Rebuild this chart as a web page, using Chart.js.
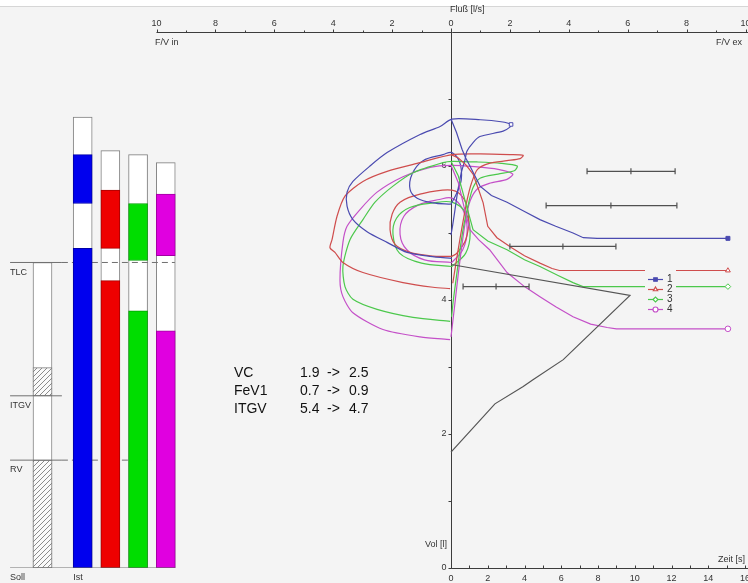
<!DOCTYPE html>
<html>
<head>
<meta charset="utf-8">
<title>Bodyplethysmographie</title>
<script src="https://cdn.jsdelivr.net/npm/chart.js@4.4.1/dist/chart.umd.min.js"></script>
<style>
  html, body { margin: 0; padding: 0; background: #f4f4f4; }
  #wrap { position: relative; width: 748px; height: 583px; }
</style>
</head>
<body>
<div id="wrap"><canvas id="c" width="748" height="583" style="width:748px;height:583px"></canvas></div>
<script>
const FONT = '"Liberation Sans", Arial, sans-serif'

// axis ticks
const flowTicks = [-10, -8, -6, -4, -2, 0, 2, 4, 6, 8, 10]
const timeTicks = [0, 2, 4, 6, 8, 10, 12, 14, 16]
const volTicks = [0, 2, 4, 6]

// measurements 1..4
const seriesNames = ['1', '2', '3', '4']
const lineColors = ['#4a4ab0', '#cf4d4d', '#4cc84c', '#c450c8']
const barColors = ['#0000ee', '#ee0000', '#00dd00', '#e000e0']
const barEdges = ['#0000a8', '#a80000', '#00a000', '#a000a0']
const markerStyles = ['rect', 'triangle', 'rectRot', 'circle']

// Soll / Ist volume columns [l]
const sollCol = 0
const istCols = [1.45, 2.45, 3.45, 4.45]
const sollTLC = 4.56
const sollITGV = 2.57
const sollITGVHi = 2.99
const sollRV = 1.61
const istTop = [6.73, 6.23, 6.17, 6.05]
const istLower = [4.77, 4.29, 3.84, 3.54]
const istUpper = [[5.44, 6.17], [4.77, 5.64], [4.59, 5.44], [4.66, 5.58]]

// text block
const summary = [
  ['VC', '1.9', '2.5'],
  ['FeV1', '0.7', '0.9'],
  ['ITGV', '5.4', '4.7']
]

// forced flow-volume loops [flow l/s, vol l]: inspiration bottom -> top, then expiration
const fvBlue = [
  [0.03, 4.62], [-0.71, 4.65], [-1.49, 4.71], [-2.17, 4.86], [-2.85, 5.02], [-3.33, 5.20], [-3.53, 5.40],
  [-3.53, 5.61], [-3.33, 5.77], [-2.75, 6.00], [-2.17, 6.20], [-1.05, 6.47], [-0.37, 6.59], [0.03, 6.70],
  [1.0, 6.69], [1.7, 6.66], [2.04, 6.62], [2.0, 6.58], [1.77, 6.52], [0.98, 6.44], [0.75, 6.35],
  [0.54, 6.22], [0.48, 6.1], [0.35, 5.9], [0.22, 5.6], [0.12, 5.3], [0.05, 5.1], [0.0, 4.97]
]
const fvRed = [
  [-0.03, 4.17], [-0.61, 4.19], [-1.63, 4.26], [-2.99, 4.41], [-3.67, 4.56], [-3.94, 4.71], [-4.11, 4.78],
  [-4.04, 4.90], [-3.87, 5.25], [-3.60, 5.55], [-2.99, 5.77], [-2.17, 5.92], [-1.05, 6.05], [0.03, 6.17],
  [1.0, 6.18], [2.0, 6.17], [2.45, 6.16], [2.35, 6.11], [1.9, 6.08], [1.3, 6.04], [0.9, 5.95],
  [0.7, 5.75], [0.55, 5.5], [0.42, 5.2], [0.3, 4.9], [0.17, 4.55], [0.06, 4.25]
]
const fvGreen = [
  [-0.03, 3.68], [-1.29, 3.74], [-2.51, 3.86], [-3.33, 4.01], [-3.60, 4.20], [-3.67, 4.50], [-3.43, 4.90],
  [-2.99, 5.20], [-2.58, 5.46], [-1.97, 5.70], [-1.29, 5.90], [-0.27, 6.05], [0.03, 6.07],
  [0.9, 6.06], [1.7, 6.04], [2.25, 6.0], [2.15, 5.93], [1.6, 5.88], [1.0, 5.82], [0.75, 5.68],
  [0.6, 5.45], [0.45, 5.15], [0.32, 4.8], [0.2, 4.4], [0.08, 4.0], [0.02, 3.75]
]
const fvMagenta = [
  [-0.03, 3.41], [-1.05, 3.45], [-2.31, 3.56], [-3.33, 3.81], [-3.67, 4.05], [-3.77, 4.30], [-3.67, 4.86],
  [-3.53, 5.10], [-3.09, 5.35], [-2.51, 5.61], [-1.63, 5.84], [-0.71, 5.98], [0.03, 6.01],
  [0.8, 5.99], [1.6, 5.95], [2.1, 5.88], [1.9, 5.8], [1.3, 5.74], [0.9, 5.66], [0.65, 5.48],
  [0.5, 5.2], [0.38, 4.85], [0.25, 4.4], [0.12, 3.9], [0.0, 3.45]
]

// tidal loops [flow l/s, vol l]
const tlBlue = [
  [0.0, 5.43], [-0.61, 5.45], [-1.15, 5.52], [-1.39, 5.65], [-1.32, 5.88], [-0.95, 6.08], [-0.27, 6.17],
  [0.03, 6.2], [0.3, 6.05], [0.35, 5.8], [0.2, 5.6], [0.0, 5.43]
]
const tlRed = [
  [0.03, 4.65], [-0.71, 4.66], [-1.39, 4.71], [-1.9, 4.83], [-2.07, 5.05], [-2.0, 5.28], [-1.73, 5.46],
  [-1.05, 5.58], [0.03, 5.64], [0.45, 5.5], [0.6, 5.2], [0.5, 4.9], [0.2, 4.7], [0.03, 4.65]
]
const tlGreen = [
  [0.03, 4.5], [-1.0, 4.55], [-1.75, 4.7], [-1.97, 4.98], [-1.85, 5.22], [-1.4, 5.38], [-0.6, 5.45],
  [0.03, 5.46], [0.5, 5.3], [0.65, 5.0], [0.5, 4.7], [0.03, 4.5]
]
const tlMagenta = [
  [0.03, 4.56], [-0.9, 4.6], [-1.5, 4.75], [-1.73, 4.98], [-1.6, 5.25], [-1.1, 5.42], [-0.4, 5.5],
  [0.03, 5.52], [0.4, 5.35], [0.55, 5.05], [0.4, 4.75], [0.03, 4.56]
]

// volume-time curves [time s, vol l]
const spBlue = [
  [0, 6.7], [0.3, 6.5], [0.6, 6.25], [0.8, 6.12], [1.03, 6.0], [1.58, 5.7], [2.2, 5.56], [3.05, 5.46],
  [4.0, 5.32], [4.84, 5.2], [5.7, 5.1], [6.64, 5.0], [7.2, 4.93], [7.95, 4.92], [15.07, 4.92]
]
const spRed = [
  [0, 6.17], [0.4, 6.12], [0.8, 6.02], [1.2, 5.88], [1.5, 5.65], [1.75, 5.45], [2.0, 5.1], [2.5, 4.93],
  [3.3, 4.78], [4.0, 4.66], [4.84, 4.55], [5.5, 4.47], [5.9, 4.44], [15.07, 4.44]
]
const spGreen = [
  [0, 6.07], [0.4, 5.85], [0.8, 5.45], [1.2, 5.05], [2.0, 4.88], [3.05, 4.75], [4.0, 4.6], [4.84, 4.5],
  [5.8, 4.37], [6.64, 4.26], [7.18, 4.2], [15.07, 4.2]
]
const spMagenta = [
  [0, 6.01], [0.4, 5.75], [0.7, 5.4], [1.03, 5.05], [1.5, 4.9], [2.1, 4.75], [3.05, 4.41], [4.0, 4.2],
  [4.84, 4.05], [5.7, 3.9], [6.64, 3.75], [7.6, 3.64], [8.5, 3.59], [9.0, 3.57], [15.07, 3.57]
]
const spReference = [[0, 1.73], [2.39, 2.45], [3.93, 2.71], [4.46, 2.81], [6.11, 3.11], [9.74, 4.07], [0, 4.53]]

// predicted flow ranges [l/s] at volume [l]
const predVol = [5.92, 5.41, 4.80, 4.20]
const predLo = [4.62, 3.23, 2.0, 0.41]
const predMid = [6.11, 5.43, 3.8, 1.53]
const predHi = [7.61, 7.67, 5.6, 2.65]

// ---- layout: pixel anchors of the scales ----
const FLOW_ZERO = 451, FLOW_PX = 29.45
const TIME_PX = 18.375
const COL_ZERO = 42.5, COL_PX = 27.7
const W = 748

const pts = arr => arr.map(([x, y]) => ({ x, y }))

function hatchPattern() {
  const p = document.createElement('canvas')
  p.width = 5
  p.height = 5
  const g = p.getContext('2d')
  g.fillStyle = '#fafafa'
  g.fillRect(0, 0, 5, 5)
  g.strokeStyle = '#6e6e6e'
  g.lineWidth = 0.8
  g.beginPath()
  g.moveTo(0, 5); g.lineTo(5, 0)
  g.moveTo(-1, 1); g.lineTo(1, -1)
  g.moveTo(4, 6); g.lineTo(6, 4)
  g.stroke()
  return document.getElementById('c').getContext('2d').createPattern(p, 'repeat')
}

// ungrouped so each bar sits centred on its own x value
const barBase = {
  type: 'bar', xAxisID: 'col', yAxisID: 'vol', grouped: false,
  barThickness: 19, maxBarThickness: 19, borderSkipped: false
}
const lineBase = {
  type: 'line', pointRadius: 0, borderWidth: 1.2, fill: false, yAxisID: 'vol'
}

function buildDatasets() {
  const hatch = hatchPattern()
  const list = []

  // outline boxes
  list.push({
    ...barBase, order: 30,
    data: [{ x: sollCol, y: [0, sollTLC] }, ...istCols.map((x, i) => ({ x, y: [0, istTop[i]] }))],
    backgroundColor: '#ffffff', borderColor: '#808080', borderWidth: 1
  })

  // dashed TLC / RV lines across the columns
  list.push({ ...lineBase, xAxisID: 'col', order: 25, borderColor: '#707070', borderWidth: 1, borderDash: [6, 4],
    data: pts([[0.7, sollTLC], [4.78, sollTLC]]) })
  list.push({ ...lineBase, xAxisID: 'col', order: 25, borderColor: '#707070', borderWidth: 1, borderDash: [6, 4],
    data: pts([[0.7, sollRV], [3.95, sollRV]]) })

  // coloured Ist segments
  list.push({
    ...barBase, order: 20,
    data: istCols.map((x, i) => ({ x, y: [0, istLower[i]] })),
    backgroundColor: barColors, borderColor: barEdges, borderWidth: 1
  })
  list.push({
    ...barBase, order: 20,
    data: istCols.map((x, i) => ({ x, y: istUpper[i] })),
    backgroundColor: barColors, borderColor: barEdges, borderWidth: 1
  })

  // hatched Soll parts
  list.push({
    ...barBase, order: 20,
    data: [{ x: sollCol, y: [0, sollRV] }, { x: sollCol, y: [sollITGV, sollITGVHi] }],
    backgroundColor: hatch, borderColor: '#808080', borderWidth: 1
  })

  // solid reference lines left of the columns
  ;[sollTLC, sollITGV, sollRV].forEach(v => {
    list.push({ ...lineBase, xAxisID: 'col', order: 15, borderColor: '#707070', borderWidth: 1,
      data: pts([[-1.17, v], [0.7, v]]) })
  })
  list.push({ ...lineBase, xAxisID: 'col', order: 15, borderColor: '#707070', borderWidth: 1,
    data: pts([[-1.17, 0], [4.78, 0]]) })

  // tidal loops
  ;[tlBlue, tlRed, tlGreen, tlMagenta].forEach((arr, i) => {
    list.push({ ...lineBase, xAxisID: 'flow', order: 10, borderColor: lineColors[i], tension: 0.35, data: pts(arr) })
  })

  // forced loops
  ;[fvBlue, fvRed, fvGreen, fvMagenta].forEach((arr, i) => {
    list.push({ ...lineBase, xAxisID: 'flow', order: 9, borderColor: lineColors[i], tension: 0.25, data: pts(arr),
      pointRadius: c => (i === 0 && c.dataIndex === 16 ? 2.5 : 0),
      pointStyle: markerStyles[i], pointBorderColor: lineColors[i], pointBackgroundColor: '#ffffff', pointBorderWidth: 1 })
  })

  // volume-time curves with end markers
  ;[spBlue, spRed, spGreen, spMagenta].forEach((arr, i) => {
    list.push({ ...lineBase, xAxisID: 'time', order: 8, borderColor: lineColors[i], data: pts(arr),
      pointRadius: c => (c.dataIndex === arr.length - 1 ? 2.8 : 0),
      pointStyle: markerStyles[i], pointBorderColor: lineColors[i],
      pointBackgroundColor: i === 0 ? lineColors[i] : '#ffffff', pointBorderWidth: 1 })
  })
  list.push({ ...lineBase, xAxisID: 'time', order: 7, borderColor: '#555555', data: pts(spReference) })

  // predicted ranges
  predVol.forEach((v, i) => {
    list.push({ ...lineBase, xAxisID: 'flow', order: 6, borderColor: '#505050', borderWidth: 1.2,
      data: pts([[predLo[i], v], [predMid[i], v], [predHi[i], v]]),
      pointRadius: 3, pointStyle: 'line', rotation: 90, pointBorderColor: '#505050', pointBorderWidth: 1.2 })
  })
  return list
}

const frame = {
  id: 'frame',
  beforeDraw(chart) {
    const { ctx, width, height } = chart
    ctx.save()
    ctx.fillStyle = '#f4f4f4'
    ctx.fillRect(0, 0, width, height)
    ctx.fillStyle = '#ffffff'
    ctx.fillRect(0, 0, width, 6)
    ctx.strokeStyle = '#d6d6d6'
    ctx.beginPath(); ctx.moveTo(0, 6.5); ctx.lineTo(width, 6.5); ctx.stroke()
    ctx.restore()
  },
  beforeDatasetsDraw(chart) {
    const { ctx } = chart
    const { flow, time, vol } = chart.scales
    const x0 = Math.round(flow.getPixelForValue(0)) + 0.5
    const yTop = Math.round(chart.chartArea.top) + 0.5
    const yBot = Math.round(vol.getPixelForValue(0)) + 0.5
    ctx.save()
    ctx.strokeStyle = '#3c3c3c'
    ctx.lineWidth = 1
    ctx.fillStyle = '#333333'
    ctx.font = '9px ' + FONT

    // flow axis on top
    ctx.beginPath()
    ctx.moveTo(flow.getPixelForValue(flowTicks[0]), yTop)
    ctx.lineTo(chart.width, yTop)
    for (let v = flowTicks[0]; v <= flowTicks[flowTicks.length - 1]; v++) {
      const px = Math.round(flow.getPixelForValue(v)) + 0.5
      ctx.moveTo(px, yTop)
      ctx.lineTo(px, yTop - (v % 2 === 0 ? 3 : 2))
    }
    ctx.stroke()
    ctx.textAlign = 'center'
    ctx.textBaseline = 'middle'
    flowTicks.forEach(v => ctx.fillText(String(Math.abs(v)), flow.getPixelForValue(v), yTop - 9))

    // volume axis at zero flow
    ctx.beginPath()
    ctx.moveTo(x0, yTop - 4)
    ctx.lineTo(x0, yBot)
    for (let v = 0; v <= 7; v++) {
      const py = Math.round(vol.getPixelForValue(v)) + 0.5
      ctx.moveTo(x0, py)
      ctx.lineTo(x0 - 3, py)
    }
    ctx.stroke()
    ctx.textAlign = 'right'
    volTicks.forEach(v => ctx.fillText(String(v), x0 - 5, vol.getPixelForValue(v)))

    // time axis along the bottom
    ctx.beginPath()
    ctx.moveTo(x0, yBot)
    ctx.lineTo(chart.width, yBot)
    for (let v = 0; v <= timeTicks[timeTicks.length - 1]; v++) {
      const px = Math.round(time.getPixelForValue(v)) + 0.5
      ctx.moveTo(px, yBot)
      ctx.lineTo(px, yBot - 3)
    }
    ctx.stroke()
    ctx.textAlign = 'center'
    timeTicks.forEach(v => ctx.fillText(String(v), time.getPixelForValue(v), yBot + 10))
    ctx.restore()
  },
  afterDatasetsDraw(chart) {
    const { ctx } = chart
    const { vol, col } = chart.scales
    ctx.save()

    // legend
    ctx.fillStyle = '#f4f4f4'
    ctx.fillRect(645, 266, 31, 50)
    seriesNames.forEach((name, i) => {
      const y = 279.5 + i * 10
      ctx.strokeStyle = lineColors[i]
      ctx.lineWidth = 1.2
      ctx.beginPath(); ctx.moveTo(648, y); ctx.lineTo(663, y); ctx.stroke()
      ctx.fillStyle = i === 0 ? lineColors[i] : '#ffffff'
      Chart.helpers.drawPoint(ctx, { pointStyle: markerStyles[i], radius: 2.5, rotation: 0, borderWidth: 1 }, 655.5, y)
      ctx.fillStyle = '#333333'
      ctx.font = '10px ' + FONT
      ctx.textAlign = 'left'
      ctx.textBaseline = 'middle'
      ctx.fillText(name, 667, y)
    })

    // axis captions
    ctx.font = '9px ' + FONT
    ctx.fillStyle = '#333333'
    ctx.textBaseline = 'middle'
    ctx.textAlign = 'left'
    ctx.fillText('Fluß [l/s]', 450, 10)
    ctx.fillText('F/V in', 155, 43)
    ctx.textAlign = 'right'
    ctx.fillText('F/V ex', 742, 43)
    ctx.fillText('Vol [l]', 447, 545)
    ctx.fillText('Zeit [s]', 745, 560)

    // column labels
    ctx.textAlign = 'left'
    const lx = col.getPixelForValue(-1.17)
    ctx.fillText('TLC', lx, vol.getPixelForValue(sollTLC) + 10)
    ctx.fillText('ITGV', lx, vol.getPixelForValue(sollITGV) + 10)
    ctx.fillText('RV', lx, vol.getPixelForValue(sollRV) + 9)
    ctx.fillText('Soll', lx, vol.getPixelForValue(0) + 10)
    ctx.fillText('Ist', col.getPixelForValue(istCols[0]) - 9.5, vol.getPixelForValue(0) + 10)

    // summary block
    ctx.font = '14px ' + FONT
    ctx.fillStyle = '#111111'
    summary.forEach((row, i) => {
      const y = 373 + i * 18.3
      ctx.fillText(row[0], 234, y)
      ctx.fillText(row[1], 300, y)
      ctx.fillText('->', 327, y)
      ctx.fillText(row[2], 349, y)
    })
    ctx.restore()
  }
}

new Chart(document.getElementById('c'), {
  type: 'line',
  data: { datasets: buildDatasets() },
  options: {
    responsive: false,
    animation: false,
    layout: { autoPadding: false, padding: { top: 32, bottom: 15, left: 0, right: 0 } },
    scales: {
      flow: { type: 'linear', axis: 'x', display: false, offset: false, min: -FLOW_ZERO / FLOW_PX, max: (W - FLOW_ZERO) / FLOW_PX },
      time: { type: 'linear', axis: 'x', display: false, offset: false, min: -FLOW_ZERO / TIME_PX, max: (W - FLOW_ZERO) / TIME_PX },
      col: { type: 'linear', axis: 'x', display: false, offset: false, min: -COL_ZERO / COL_PX, max: (W - COL_ZERO) / COL_PX },
      vol: { type: 'linear', axis: 'y', display: false, stacked: false, min: 0, max: 8 }
    },
    plugins: { legend: { display: false }, tooltip: { enabled: false } }
  },
  plugins: [frame]
})
</script>
</body>
</html>
